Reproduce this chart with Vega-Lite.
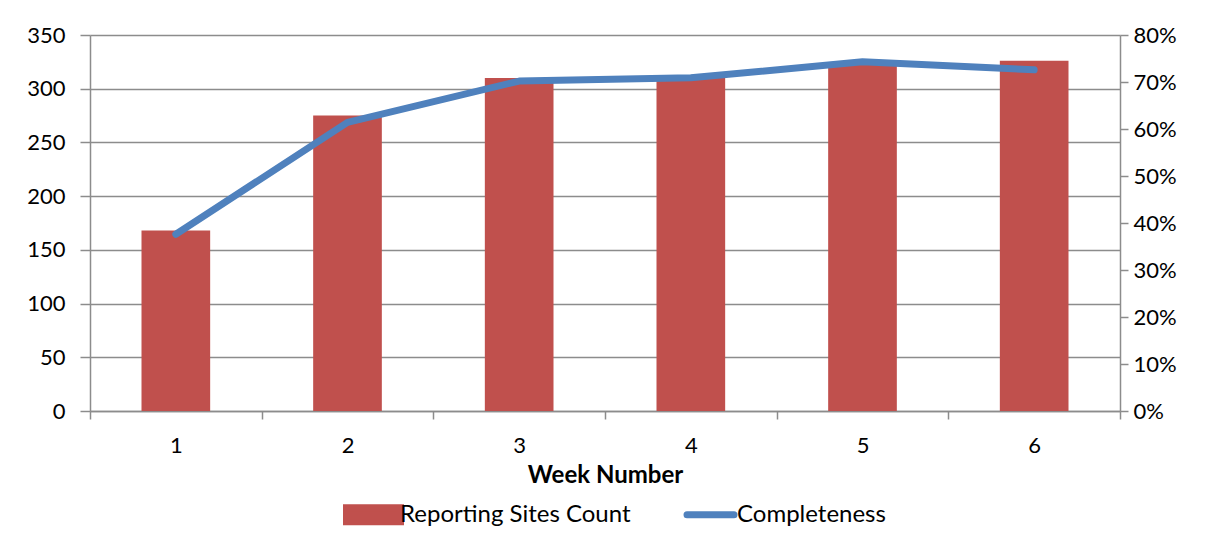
{
  "$schema": "https://vega.github.io/schema/vega-lite/v6.json",
  "width": 1030,
  "height": 376,
  "autosize": {"type": "none"},
  "padding": {"left": 90, "top": 35, "right": 86, "bottom": 124},
  "background": "white",
  "config": {
    "font": "Lato",
    "view": {"stroke": null},
    "axis": {"labelFont": "Lato", "titleFont": "Lato", "labelFontSize": 22, "labelColor": "#000", "titleColor": "#000", "domainColor": "#8c8c8c", "tickColor": "#8c8c8c", "gridColor": "#8c8c8c", "domainWidth": 1.5, "tickWidth": 1.5, "gridWidth": 1.5}
  },
  "data": {
    "values": [
      {"week": "1", "count": 168, "completeness": 0.376},
      {"week": "2", "count": 275, "completeness": 0.614},
      {"week": "3", "count": 310, "completeness": 0.702},
      {"week": "4", "count": 312, "completeness": 0.709},
      {"week": "5", "count": 323, "completeness": 0.743},
      {"week": "6", "count": 326, "completeness": 0.726}
    ]
  },
  "encoding": {
    "x": {
      "field": "week", "type": "ordinal", "title": "Week Number",
      "scale": {"paddingInner": 0, "paddingOuter": 0},
      "axis": {"labelAngle": 0, "tickBand": "extent", "tickSize": 8, "labelPadding": 16, "titleFontSize": 24, "titleFontWeight": "bold", "titlePadding": 7, "grid": false}
    }
  },
  "layer": [
    {
      "mark": {"type": "bar", "width": {"band": 0.4}},
      "encoding": {
        "y": {"field": "count", "type": "quantitative", "title": null,
          "scale": {"domain": [0, 350]},
          "axis": {"values": [0, 50, 100, 150, 200, 250, 300, 350], "tickSize": 10, "labelPadding": 15, "grid": true}},
        "color": {"datum": "Reporting Sites Count", "type": "nominal",
          "scale": {"domain": ["Reporting Sites Count", "Completeness"], "range": ["#C0504D", "#4F81BD"]},
          "legend": {
            "title": null, "orient": "none", "direction": "horizontal",
            "legendX": 253, "legendY": 449,
            "labelFont": "Lato", "labelFontSize": 24, "labelColor": "#000", "labelLimit": 400,
            "symbolSize": 2916, "symbolStrokeWidth": 7, "labelOffset": -4, "columnPadding": 38,
            "symbolOpacity": 1,
            "encode": {
              "symbols": {
                "update": {
                  "shape": {"signal": "datum.value === 'Completeness' ? 'M-1,-0.26M1,0.26M-0.87,0L0.87,0' : 'M-1,-0.26L1,-0.26L1,0.26L-1,0.26Z'"},
                  "fill": {"signal": "datum.value === 'Completeness' ? 'transparent' : '#C0504D'"},
                  "stroke": {"signal": "datum.value === 'Completeness' ? '#4F81BD' : 'transparent'"},
                  "strokeWidth": {"value": 7},
                  "strokeCap": {"value": "round"}
                }
              }
            }
          }}
      }
    },
    {
      "mark": {"type": "line", "strokeWidth": 7, "strokeCap": "round", "strokeJoin": "round"},
      "encoding": {
        "y": {"field": "completeness", "type": "quantitative", "title": null,
          "scale": {"domain": [0, 0.8]},
          "axis": {"orient": "right", "format": ".0%", "values": [0, 0.1, 0.2, 0.3, 0.4, 0.5, 0.6, 0.7, 0.8], "tickSize": 8, "labelPadding": 5, "grid": false}},
        "color": {"datum": "Completeness", "type": "nominal"}
      }
    }
  ],
  "resolve": {"scale": {"y": "independent"}}
}
